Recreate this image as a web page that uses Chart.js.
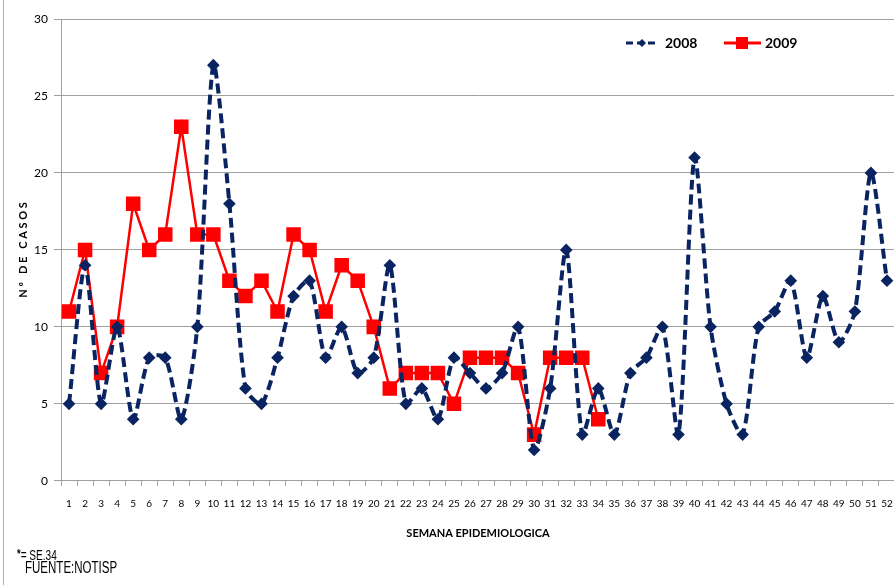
<!DOCTYPE html>
<html>
<head>
<meta charset="utf-8">
<script src="https://cdn.jsdelivr.net/npm/chart.js@4.4.1/dist/chart.umd.min.js"></script>
<style>
  html, body { margin: 0; padding: 0; background: #fff; overflow: hidden; }
  #wrap { position: relative; width: 906px; height: 585px; }
  #frame { position: absolute; left: 3px; top: 0; width: 1px; height: 585px; background: #b0b0b0; }
  .nota { position: absolute; font-family: "Liberation Sans", sans-serif; color: #000; line-height: 1;
          transform: scaleX(0.72); transform-origin: left top; white-space: nowrap; }
</style>
</head>
<body>
<div id="wrap">
  <canvas id="grafico" width="906" height="585"></canvas>
  <div id="frame"></div>
  <div class="nota" style="top:548px; left:17px; font-size:14px"><b style="font-size:13px;position:relative;top:-2px">*</b>= SE.34</div>
  <div class="nota" style="top:560px; left:25px; font-size:16px">FUENTE:NOTISP</div>
</div>
<script>
// semanas epidemiologicas
const semanas = [];
for (let i = 1; i <= 52; i++) semanas.push(String(i));

const casos2008 = [5, 14, 5, 10, 4, 8, 8, 4, 10, 27, 18, 6, 5, 8, 12, 13, 8, 10, 7, 8,
                   14, 5, 6, 4, 8, 7, 6, 7, 10, 2, 6, 15, 3, 6, 3, 7, 8, 10, 3, 21,
                   10, 5, 3, 10, 11, 13, 8, 12, 9, 11, 20, 13];
const casos2009 = [11, 15, 7, 10, 18, 15, 16, 23, 16, 16, 13, 12, 13, 11, 16, 15, 11, 14, 13, 10,
                   6, 7, 7, 7, 5, 8, 8, 8, 7, 3, 8, 8, 8, 4];

const azul = '#0a2461';
const rojo = '#ff0000';

// leyenda dentro del grafico (como en excel)
const leyenda = {
  id: 'leyenda',
  afterDraw(chart) {
    const ctx = chart.ctx;
    const y = 43;
    ctx.save();
    // 2008
    ctx.strokeStyle = azul;
    ctx.lineWidth = 3;
    ctx.setLineDash([7, 4]);
    ctx.beginPath(); ctx.moveTo(626, y); ctx.lineTo(659, y); ctx.stroke();
    ctx.setLineDash([]);
    ctx.fillStyle = azul;
    ctx.beginPath();
    ctx.moveTo(642, y - 4); ctx.lineTo(646, y); ctx.lineTo(642, y + 4); ctx.lineTo(638, y);
    ctx.closePath(); ctx.fill();
    // 2009
    ctx.strokeStyle = rojo;
    ctx.lineWidth = 3;
    ctx.beginPath(); ctx.moveTo(724, y); ctx.lineTo(761, y); ctx.stroke();
    ctx.fillStyle = rojo;
    ctx.fillRect(736, y - 6, 12, 12);
    // textos
    ctx.fillStyle = '#000';
    ctx.font = 'bold 14px Lato';
    ctx.textBaseline = 'middle';
    ctx.fillText('2008', 665, y);
    ctx.fillText('2009', 765, y);
    ctx.restore();
  }
};

new Chart(document.getElementById('grafico'), {
  type: 'line',
  data: {
    labels: semanas,
    datasets: [
      {
        label: '2008',
        data: casos2008,
        borderColor: azul,
        backgroundColor: azul,
        borderWidth: 4,
        borderDash: [10, 5],
        pointStyle: 'rectRot',
        pointRadius: 3.5,
        tension: 0.25
      },
      {
        label: '2009',
        data: casos2009,
        borderColor: rojo,
        backgroundColor: rojo,
        borderWidth: 2.5,
        pointStyle: 'rect',
        pointRadius: 8.5,
        tension: 0
      }
    ]
  },
  options: {
    responsive: false,
    animation: false,
    layout: { padding: { top: 19, left: 13, right: 0, bottom: 41 } },
    plugins: {
      legend: { display: false },
      tooltip: { enabled: false }
    },
    scales: {
      x: {
        offset: true,
        grid: { offset: true, drawOnChartArea: false, color: '#a0a0a0', tickLength: 5 },
        border: { color: '#a0a0a0' },
        ticks: { color: '#000', font: { family: 'Lato', size: 10 }, maxRotation: 0, autoSkip: false, padding: 12 },
        title: { display: true, text: 'SEMANA EPIDEMIOLOGICA', color: '#000',
                 font: { family: 'Lato', size: 11, weight: 'bold' }, padding: { top: 5 } }
      },
      y: {
        min: 0,
        max: 30,
        afterFit: (escala) => { escala.width = 48; },
        ticks: { stepSize: 5, color: '#000', font: { family: 'Lato', size: 12 }, padding: 6 },
        grid: { color: '#a0a0a0', tickLength: 7 },
        border: { color: '#a0a0a0' },
        title: { display: true, text: 'N º   D E   C A S O S', color: '#000',
                 font: { family: 'Lato', size: 11, weight: 'bold' }, padding: { top: 4, bottom: 0 } }
      }
    }
  },
  plugins: [leyenda]
});
</script>
</body>
</html>
